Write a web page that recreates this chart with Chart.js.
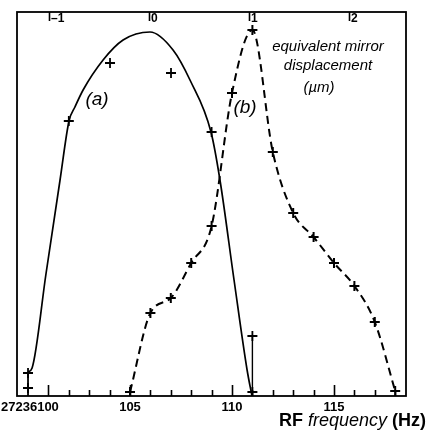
<!DOCTYPE html>
<html>
<head>
<meta charset="utf-8">
<script src="https://cdn.jsdelivr.net/npm/chart.js@4/dist/chart.umd.min.js"></script>
<style>
  html, body { margin: 0; padding: 0; background: #fff; }
</style>
</head>
<body>
<canvas id="rfChart" width="429" height="431"></canvas>
<script>
// fitted curve (a), RF frequency offset vs signal
const curveAx = [100, 100.2, 100.88, 101.57, 102.01, 102.3, 102.7, 103.68, 104.66, 105.98, 107.11, 107.94, 108.97, 109.41, 110.1, 110.74, 110.98];
const curveAy = [24, 28, 122, 216, 275, 289, 306, 336, 356, 364, 346, 316, 264, 216, 116, 26, 0];

// measured points (a)
const pointsAx = [100, 100, 102, 104.02, 107.01, 109, 111, 111];
const pointsAy = [23, 8, 275, 333, 323, 264, 60, 4];

// measured points (b), joined by the dashed line
const pointsBx = [105, 106, 107, 108, 109, 110, 111, 112, 113, 114, 115, 116, 117, 118];
const pointsBy = [4, 83, 98, 133, 170, 303, 366, 244, 183, 159, 133, 110, 74, 5];

const freqLabels = [[100, "27236100"], [105, "105"], [110, "110"], [115, "115"]];
const dispTicks = [-1, 0, 1, 2];

function toPoints(xs, ys) {
    return xs.map((x, i) => ({ x: x, y: ys[i] }));
}

const framePlugin = {
    id: 'frame',
    afterDraw(chart) {
        const ctx = chart.ctx;
        const area = chart.chartArea;
        const xs = chart.scales.x;
        const xt = chart.scales.xTop;
        ctx.save();
        ctx.strokeStyle = '#000';
        ctx.fillStyle = '#000';
        ctx.lineWidth = 1.8;
        ctx.strokeRect(area.left, area.top, area.right - area.left, area.bottom - area.top);

        // bottom ticks, inside
        ctx.lineWidth = 1.6;
        for (let v = 101; v <= 118; v++) {
            const px = Math.round(xs.getPixelForValue(v)) + 0.5;
            const len = (v === 101 || v === 105 || v === 110 || v === 115) ? 11 : 6;
            ctx.beginPath();
            ctx.moveTo(px, area.bottom);
            ctx.lineTo(px, area.bottom - len);
            ctx.stroke();
        }
        // top ticks
        dispTicks.forEach(v => {
            const px = Math.round(xt.getPixelForValue(v)) + 0.5;
            ctx.beginPath();
            ctx.moveTo(px, area.top);
            ctx.lineTo(px, area.top + 9);
            ctx.stroke();
        });

        ctx.font = 'bold 12px "Liberation Sans", Arial, sans-serif';
        ctx.textBaseline = 'middle';
        ctx.textAlign = 'left';
        dispTicks.forEach(v => {
            const px = xt.getPixelForValue(v);
            ctx.fillText(v < 0 ? '\u2013' + Math.abs(v) : String(v), px + 2, area.top + 7);
        });

        ctx.font = 'bold 13px "Liberation Sans", Arial, sans-serif';
        freqLabels.forEach(([v, t], i) => {
            if (i === 0) {
                ctx.textAlign = 'left';
                ctx.fillText(t, 1, area.bottom + 11);
            } else {
                ctx.textAlign = 'center';
                ctx.fillText(t, xs.getPixelForValue(v), area.bottom + 11);
            }
        });

        // axis title
        const parts = [
            ['RF ', 'bold 18px "Liberation Sans", Arial, sans-serif'],
            ['frequency ', 'italic 18px "Liberation Sans", Arial, sans-serif'],
            ['(Hz)', 'bold 18px "Liberation Sans", Arial, sans-serif']
        ];
        let total = 0;
        parts.forEach(p => { ctx.font = p[1]; total += ctx.measureText(p[0]).width; });
        let x = 426 - total;
        ctx.textAlign = 'left';
        parts.forEach(p => {
            ctx.font = p[1];
            ctx.fillText(p[0], x, area.bottom + 25);
            x += ctx.measureText(p[0]).width;
        });

        // curve labels and top axis caption
        ctx.textAlign = 'center';
        ctx.font = 'italic 19px "Liberation Sans", Arial, sans-serif';
        ctx.fillText('(a)', 97, 100);
        ctx.fillText('(b)', 245, 108);
        ctx.font = 'italic 15px "Liberation Sans", Arial, sans-serif';
        ctx.fillText('equivalent mirror', 328, 47);
        ctx.fillText('displacement', 328, 66);
        ctx.fillText('(\u00b5m)', 319, 88);
        ctx.restore();
    }
};

new Chart(document.getElementById('rfChart'), {
    type: 'scatter',
    data: {
        datasets: [
            {
                label: 'fit (a)',
                type: 'line',
                data: toPoints(curveAx, curveAy),
                borderColor: '#000',
                borderWidth: 1.7,
                pointRadius: 0,
                cubicInterpolationMode: 'monotone',
                fill: false
            },
            {
                label: 'edge (a) left',
                type: 'line',
                data: toPoints([100, 100], [0, 24]),
                borderColor: '#000',
                borderWidth: 1.8,
                pointRadius: 0
            },
            {
                label: 'edge (a) right',
                type: 'line',
                data: toPoints([111, 111], [0, 60]),
                borderColor: '#000',
                borderWidth: 1.4,
                pointRadius: 0
            },
            {
                label: '(b)',
                type: 'line',
                data: toPoints(pointsBx, pointsBy),
                borderColor: '#000',
                borderWidth: 2,
                borderDash: [8, 5],
                cubicInterpolationMode: 'monotone',
                pointStyle: 'cross',
                pointRadius: 5,
                pointBorderWidth: 2,
                pointBorderColor: '#000',
                fill: false
            },
            {
                label: '(a) points',
                data: toPoints(pointsAx, pointsAy),
                pointStyle: 'cross',
                pointRadius: 5,
                pointBorderWidth: 1.8,
                borderColor: '#000',
                backgroundColor: '#000'
            }
        ]
    },
    options: {
        responsive: false,
        animation: false,
        layout: { padding: { left: 17, right: 23, top: 12, bottom: 35 } },
        plugins: {
            legend: { display: false },
            tooltip: { enabled: false }
        },
        scales: {
            x: { type: 'linear', min: 99.46, max: 118.53, display: false },
            xTop: { type: 'linear', axis: 'x', position: 'top', min: -1.32, max: 2.57, display: false },
            y: { type: 'linear', min: 0, max: 384, display: false }
        }
    },
    plugins: [framePlugin]
});
</script>
</body>
</html>
